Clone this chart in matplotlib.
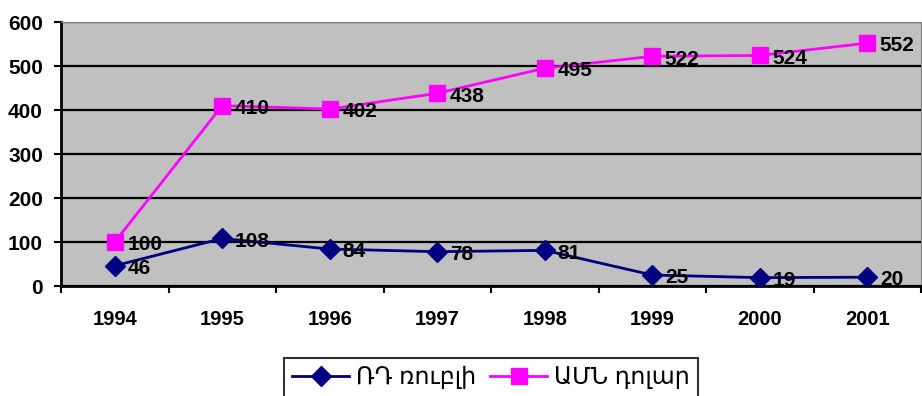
import matplotlib
matplotlib.use('Agg')
import matplotlib.pyplot as plt
import numpy as np

years = ['1994', '1995', '1996', '1997', '1998', '1999', '2000', '2001']
rub = [46, 108, 84, 78, 81, 25, 19, 20]
usd = [100, 410, 402, 438, 495, 522, 524, 552]
series_names = ['ՌԴ ռուբլի', 'ԱՄՆ դոլար']

plt.rcParams['font.family'] = ['Liberation Sans', 'DejaVu Sans']

fig = plt.figure(figsize=(9.22, 3.96), dpi=100)
ax = fig.add_axes([61 / 922, 1 - 286 / 396, 860 / 922, 264 / 396])
ax.set_facecolor('#c0c0c0')

x = np.arange(len(years))
ax.plot(x, rub, color='#000080', lw=2, marker='D', markersize=10, label=series_names[0], zorder=3)
ax.plot(x, usd, color='#ff00ff', lw=2, marker='s', markersize=11, label=series_names[1], zorder=3)

for vals in (rub, usd):
    for xi, v in zip(x, vals):
        ax.annotate(str(v), (xi, v), xytext=(9, -2), textcoords='offset points',
                    ha='left', va='center', fontsize=15, fontweight='bold', zorder=4)

ax.set_xlim(-0.5, len(years) - 0.5)
ax.set_ylim(0, 600)
ax.set_yticks(np.arange(0, 601, 100))
ax.yaxis.grid(True, color='black', lw=1.6)
ax.set_axisbelow(True)

# category labels centred, tick marks between categories
ax.set_xticks(np.arange(-0.5, len(years), 1))
ax.set_xticklabels([])
ax.set_xticks(x, minor=True)
ax.set_xticklabels(years, minor=True, fontsize=14.5, fontweight='bold')
ax.tick_params(axis='x', which='minor', length=0, pad=17)
ax.tick_params(axis='x', which='major', length=5, width=1.5, direction='out')
ax.tick_params(axis='y', length=5, width=1.5, labelsize=15, pad=8)
for lab in ax.get_yticklabels():
    lab.set_fontweight('bold')

ax.spines['left'].set_linewidth(2)
ax.spines['bottom'].set_linewidth(2)
ax.spines['top'].set_color('#808080')
ax.spines['right'].set_color('#808080')

# legend box runs off the bottom edge
leg = ax.legend(loc='upper center', bbox_to_anchor=(491 / 922, 1 - 358 / 396),
                bbox_transform=fig.transFigure, ncol=2, frameon=True, fancybox=False,
                edgecolor='black', fontsize=17, handlelength=2.4, columnspacing=0.6,
                handletextpad=0.3, borderpad=0.35, borderaxespad=0)
leg.get_frame().set_linewidth(1.5)

fig.savefig('out.png', dpi=100)
